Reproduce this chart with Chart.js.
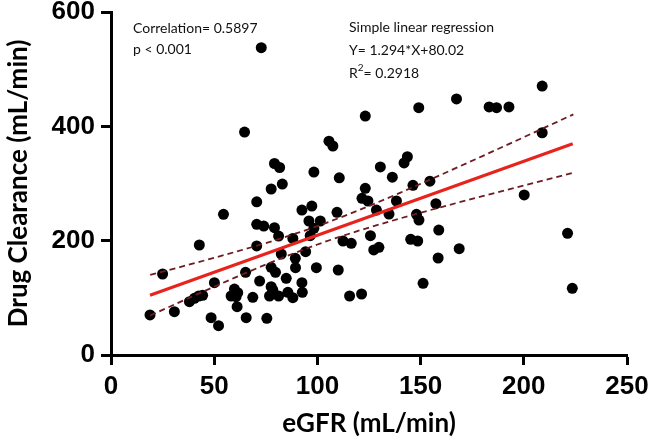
<!DOCTYPE html>
<html><head><meta charset="utf-8">
<script src="https://cdn.jsdelivr.net/npm/chart.js@4.4.1/dist/chart.umd.min.js"></script>
<style>html,body{margin:0;padding:0;background:#fff}canvas{display:block}</style>
</head><body>
<canvas id="c" width="650" height="447"></canvas>
<script>
// ---- data ----
const egfr = [72.8,64.7,105.6,107.5,79.2,81.7,98.3,110.6,208.9,167.4,183.2,186.8,192.8,149.1,123.2,208.9,130.5,143.6,142,136.3,154.5,200.2,221.2,223.5,123.2,146.3,121.6,124.5,138.3,128.6,134.7,157.4,148,149.2,116.4,125.7,127.3,129.8,158.8,145.2,148.6,168.7,158.5,151.2,115.6,121.4,77.6,83,70.6,54.5,92.5,97.3,109.5,95.9,101.4,98.3,96.5,70.6,74,79.2,81.2,88.1,42.8,70.6,112.4,94.3,82.5,89.3,89.4,99.5,110.1,77.6,79.7,84.9,92.5,92.7,72,65.2,50.1,25,77.6,78.4,76.8,81.2,85.7,88.1,59.8,61.4,58.2,60.6,61.1,68.7,65.5,75.5,38,40.4,42.5,44.4,30.7,18.9,48.5,52.1];
const clearance = [537.5,390,374,365.6,335,328,320,310,470.5,448,434,432.6,434,432.6,418,388.8,329,346.8,336,311,304,280,212.9,116.7,291.6,296.8,274,269.4,269.4,253.6,246.6,264.7,246,236,195.4,208.7,183.7,188.4,218.6,202.4,199.4,186,169.7,125.4,103.2,106.7,290.4,299,268,246,253.6,260.6,249.6,234.4,234.4,221.6,208.7,228.6,225.6,222.7,208,204,192.4,190.7,199.4,180.7,176.7,169.1,152.7,152.7,148.7,153.4,144.7,134.2,126.5,109.6,129.4,144.7,126.5,141.7,119.5,113.7,103.2,103.2,109.7,100.2,115.4,109,103.2,102,84.5,100.9,65.3,64.1,93.2,99.2,103.2,104.4,75.7,70,65.3,51.3];
const slope = 1.294, intercept = 80.02;
const regX = [18.9, 223.7];
const bandX = [19,40,60,80,100,120,140,160,180,200,224];
const bandUpper = [140.1,160.2,180.1,201.4,225.5,253.2,283.6,315.5,348.0,381.0,420.9];
const bandLower = [69.1,103.4,135.3,165.6,193.3,217.4,238.8,258.7,277.8,296.6,318.9];
const xTicks = [0,50,100,150,200,250];
const yTicks = [0,200,400,600];
const xTitle = 'eGFR (mL/min)';
const yTitle = 'Drug Clearance (mL/min)';
const notesLeft = ['Correlation= 0.5897','p < 0.001'];
const notesRight = ['Simple linear regression','Y= 1.294*X+80.02','R\u00B2= 0.2918'];

const pts = egfr.map((x,i)=>({x:x,y:clearance[i]}));
const reg = regX.map(x=>({x:x,y:slope*x+intercept}));
const up = bandX.map((x,i)=>({x:x,y:bandUpper[i]}));
const lo = bandX.map((x,i)=>({x:x,y:bandLower[i]}));

const tickFont = {family:'"Liberation Sans Narrow", "Liberation Sans", Arial', size:26, weight:'bold'};
const titleFont = {family:'Lato, "Open Sans", sans-serif', size:26, weight:'bold'};
const noteFont = '14px Lato, "Open Sans", sans-serif';

const notes = {
  id:'notes',
  afterDraw(chart){
    const ctx = chart.ctx;
    ctx.save();
    ctx.fillStyle = '#111';
    ctx.font = noteFont;
    ctx.textBaseline = 'alphabetic';
    ctx.textAlign = 'left';
    ctx.fillText(notesLeft[0], 133, 33);
    ctx.fillText(notesLeft[1], 133, 54);
    ctx.fillText(notesRight[0], 349, 32);
    ctx.fillText(notesRight[1], 349, 55);
    const r = notesRight[2];
    ctx.fillText('R', 349, 78);
    const w = ctx.measureText('R').width;
    ctx.font = '10px Lato, "Open Sans", sans-serif';
    ctx.fillText('2', 349 + w, 71);
    const w2 = ctx.measureText('2').width;
    ctx.font = noteFont;
    ctx.fillText(r.slice(2), 349 + w + w2, 78);
    ctx.restore();
  }
};

new Chart(document.getElementById('c'), {
  type:'scatter',
  data:{datasets:[
    {type:'line', data:reg, borderColor:'#e8231d', borderWidth:3, pointRadius:0, fill:false, order:1},
    {type:'line', data:up, borderColor:'#6e1c22', borderWidth:1.8, borderDash:[6,4], pointRadius:0, cubicInterpolationMode:'monotone', fill:false, order:2},
    {type:'line', data:lo, borderColor:'#6e1c22', borderWidth:1.8, borderDash:[6,4], pointRadius:0, cubicInterpolationMode:'monotone', fill:false, order:2},
    {data:pts, backgroundColor:'#000', borderColor:'#000', pointRadius:5.5, pointHoverRadius:5.5, borderWidth:0, order:3}
  ]},
  options:{
    responsive:false, animation:false,
    layout:{padding:{top:12, right:23, left:0, bottom:0}},
    plugins:{legend:{display:false}, tooltip:{enabled:false}},
    scales:{
      x:{type:'linear', min:0, max:250,
        afterBuildTicks(s){ s.ticks = xTicks.map(v=>({value:v})); },
        afterFit(s){ s.height = 92; s.paddingLeft = 0; s.paddingRight = 0; },
        ticks:{font:tickFont, color:'#000', padding:6, maxRotation:0},
        grid:{drawOnChartArea:false, drawTicks:true, tickLength:10, tickWidth:3, tickColor:'#000'},
        border:{display:true, width:3, color:'#000'},
        title:{display:true, text:xTitle, font:titleFont, color:'#000', padding:{top:0,bottom:8}}
      },
      y:{type:'linear', min:0, max:600,
        afterBuildTicks(s){ s.ticks = yTicks.map(v=>({value:v})); },
        afterFit(s){ s.width = 111; s.paddingTop = 0; s.paddingBottom = 0; },
        ticks:{font:tickFont, color:'#000', padding:6},
        grid:{drawOnChartArea:false, drawTicks:true, tickLength:10, tickWidth:3, tickColor:'#000'},
        border:{display:true, width:3, color:'#000'},
        title:{display:true, text:yTitle, font:titleFont, color:'#000', padding:{top:3,bottom:0}}
      }
    }
  },
  plugins:[notes]
});
</script>
</body></html>
